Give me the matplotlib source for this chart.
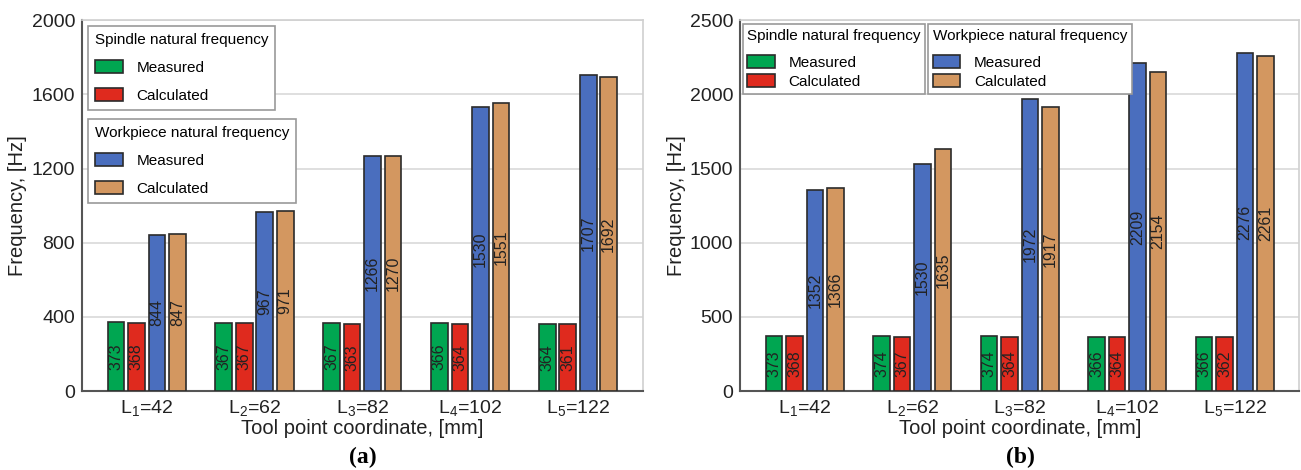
import numpy as np
import matplotlib
matplotlib.use('Agg')
import matplotlib.pyplot as plt
from matplotlib.patches import Patch

plt.rcParams['font.family'] = ['Liberation Sans', 'DejaVu Sans']
plt.rcParams['mathtext.fontset'] = 'custom'
plt.rcParams['mathtext.rm'] = 'Liberation Sans'
plt.rcParams['mathtext.it'] = 'Liberation Sans'

# data
tick_labels = ['L$_{1}$=42', 'L$_{2}$=62', 'L$_{3}$=82', 'L$_{4}$=102', 'L$_{5}$=122']

a_spindle_meas = [373, 367, 367, 366, 364]
a_spindle_calc = [368, 367, 363, 364, 361]
a_work_meas = [844, 967, 1266, 1530, 1707]
a_work_calc = [847, 971, 1270, 1551, 1692]

b_spindle_meas = [373, 374, 374, 366, 366]
b_spindle_calc = [368, 367, 364, 364, 362]
b_work_meas = [1352, 1530, 1972, 2209, 2276]
b_work_calc = [1366, 1635, 1917, 2154, 2261]

colors = ['#00a651', '#df2a1e', '#4a6ebe', '#d39760']
edge = '#2b2b2b'

fig = plt.figure(figsize=(13.01, 4.70), dpi=100)
ax_a = fig.add_axes([0.063, 0.168, 0.431, 0.789])
ax_b = fig.add_axes([0.569, 0.168, 0.4297, 0.789])


def draw_panel(ax, series, ymax, ystep):
    x = np.arange(len(tick_labels))
    offsets = [-0.285, -0.095, 0.095, 0.285]
    for vals, off, c in zip(series, offsets, colors):
        bars = ax.bar(x + off, vals, width=0.155, color=c, edgecolor=edge,
                      linewidth=1.2, zorder=3)
        for b, v in zip(bars, vals):
            ax.text(b.get_x() + b.get_width() / 2, v / 2, str(v),
                    rotation=90, ha='center', va='center', fontsize=11.5,
                    color='#222222', zorder=4)
    ax.set_xlim(-0.6, 4.6)
    ax.set_ylim(0, ymax)
    ax.set_yticks(np.arange(0, ymax + 1, ystep))
    ax.set_xticks(x)
    ax.set_xticklabels(tick_labels)
    ax.tick_params(length=0, labelsize=14, pad=5, colors='#222222')
    ax.grid(axis='y', color='#d9d9d9', linewidth=1.2, zorder=0)
    for s in ['left', 'bottom']:
        ax.spines[s].set_color('#555555')
        ax.spines[s].set_linewidth(1.5)
    for s in ['top', 'right']:
        ax.spines[s].set_color('#d0d0d0')
        ax.spines[s].set_linewidth(1.2)
    ax.set_ylabel('Frequency, [Hz]', fontsize=14.5, color='#222222', labelpad=3)
    ax.set_xlabel('Tool point coordinate, [mm]', fontsize=14.5, color='#222222', labelpad=1)


draw_panel(ax_a, [a_spindle_meas, a_spindle_calc, a_work_meas, a_work_calc], 2000, 400)
draw_panel(ax_b, [b_spindle_meas, b_spindle_calc, b_work_meas, b_work_calc], 2500, 500)


def make_handles(c1, c2):
    return [Patch(facecolor=c1, edgecolor=edge, linewidth=1.2, label='Measured'),
            Patch(facecolor=c2, edgecolor=edge, linewidth=1.2, label='Calculated')]


leg_kw = dict(fontsize=11, title_fontsize=11, frameon=True, fancybox=False,
              edgecolor='#999999', framealpha=1, handlelength=1.8,
              handleheight=0.95, handletextpad=0.9, alignment='left',
              borderaxespad=0)

# panel (a) legends
l1 = ax_a.legend(handles=make_handles(colors[0], colors[1]), title='Spindle natural frequency',
                 loc='upper left', bbox_to_anchor=(0.011, 0.984), labelspacing=0.85,
                 borderpad=0.45, **leg_kw)
ax_a.add_artist(l1)
l2 = ax_a.legend(handles=make_handles(colors[2], colors[3]), title='Workpiece natural frequency',
                 loc='upper left', bbox_to_anchor=(0.011, 0.733), labelspacing=0.85,
                 borderpad=0.45, **leg_kw)

# panel (b) legends - tighter rows, but a bigger gap under the title
l3 = ax_b.legend(handles=make_handles(colors[0], colors[1]), title='Spindle natural frequency',
                 loc='upper left', bbox_to_anchor=(0.004, 0.989), labelspacing=0.3,
                 borderpad=0.3, **leg_kw)
ax_b.add_artist(l3)
l4 = ax_b.legend(handles=make_handles(colors[2], colors[3]), title='Workpiece natural frequency',
                 loc='upper left', bbox_to_anchor=(0.336, 0.989), labelspacing=0.3,
                 borderpad=0.3, **leg_kw)
for l in [l3, l4]:
    l._legend_box.sep = 8.5

for l in [l1, l2, l3, l4]:
    l.get_frame().set_linewidth(1.2)

fig.text(0.2785, 0.026, '(a)', ha='center', va='center', fontsize=17,
         fontweight='bold', family=['Liberation Serif', 'DejaVu Serif'])
fig.text(0.784, 0.026, '(b)', ha='center', va='center', fontsize=17,
         fontweight='bold', family=['Liberation Serif', 'DejaVu Serif'])

fig.savefig('out.png', dpi=100, facecolor='white')
